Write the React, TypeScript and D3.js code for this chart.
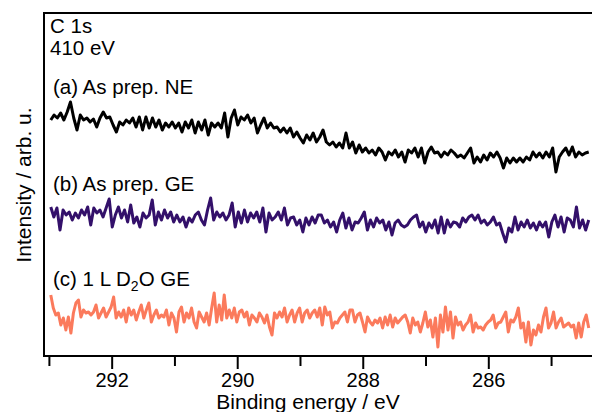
import * as d3 from 'd3'
import { useEffect, useRef } from 'react'

// C 1s spectra, intensity in arbitrary units (offset traces)
const traceA = [
  235, 240, 237, 242, 235, 243, 253, 237, 225, 240, 235, 237, 233, 236, 228, 237, 243, 237, 238, 230,
  223, 233, 230, 235, 232, 237, 228, 238, 225, 238, 227, 237, 228, 235, 225, 232, 228, 233, 227, 232,
  223, 233, 227, 235, 222, 233, 225, 235, 220, 232, 228, 232, 227, 242, 218, 237, 245, 230, 238, 235,
  240, 232, 237, 222, 230, 237, 227, 232, 227, 228, 223, 227, 222, 227, 218, 223, 217, 212, 220, 215,
  222, 213, 218,
  225, 213, 210, 213, 208, 212, 207, 222, 207, 213, 202, 210, 203, 207, 202, 205, 200, 207, 203, 195,
  203, 200, 205, 198, 203, 193, 205, 202, 207, 198, 207, 192, 203, 208, 202, 203, 198, 203, 200, 205,
  202, 198, 200, 197, 202, 207, 192, 198, 193, 200, 195, 202, 198, 203, 197, 187, 197, 192, 197, 193,
  197, 193, 198, 195, 203, 198, 202, 197, 203, 198, 207, 183, 198, 203, 207, 200, 208, 198, 203, 200,
  202, 203,
]

const traceB = [
  148, 138, 147, 125, 145, 140, 143, 135, 142, 137, 145, 140, 148, 130, 147, 142, 145, 138, 147, 156,
  128, 140, 148, 137, 145, 133, 150, 132, 138, 128, 142, 137, 140, 155, 130, 143, 135, 145, 137, 143,
  133, 140, 133, 138, 128, 137, 133, 140, 143, 135, 130, 145, 157, 135, 143, 138, 142, 135, 140, 152,
  128, 143, 132, 145, 133, 142, 137, 143, 133, 147, 123, 142, 135, 138, 143, 135, 147, 130, 137, 138,
  130, 135, 123, 137, 130, 138, 132, 140,
  140, 132, 135, 128, 133, 123, 135, 142, 127, 137, 125, 133, 132, 137, 143, 125, 135, 128, 137, 132,
  135, 125, 133, 120, 132, 135, 130, 128, 130, 135, 138, 140, 128, 133, 123, 132, 127, 135, 122, 138,
  122, 135, 128, 133, 132, 128, 137, 133, 138, 140, 135, 140, 132, 135, 130, 133, 138, 130, 132, 122,
  113, 127, 123, 138, 125, 133, 128, 135, 127, 132, 125, 133, 128, 133, 118, 133, 140, 128, 138, 123,
  137, 135, 128, 148, 127, 135, 125, 135,
]

const traceC = [
  60, 47, 40, 42, 30, 37, 25, 38, 22, 42, 52, 55, 38, 45, 42, 43, 40, 43, 50, 37,
  42, 47, 38, 43, 48, 58, 37, 43, 38, 45, 33, 47, 40, 45, 35, 43, 50, 37, 45, 52,
  33, 40, 45, 37, 40, 38, 45, 30, 42, 37, 23, 43, 48, 33, 42, 37, 47, 33, 27, 43,
  38, 33, 42, 30, 47, 62, 33, 50, 35, 60, 37, 45, 37, 47, 33, 43, 45, 38, 43, 30,
  40, 37, 33, 42, 38, 32, 40, 28, 20, 42, 37, 43, 38, 47, 33, 40, 45, 33, 42, 47,
  33, 42, 45, 37, 42,
  45, 38, 47, 30, 48, 40, 43, 27, 33, 32, 37, 40, 43, 33, 45, 45, 33, 40, 42, 33,
  23, 38, 33, 30, 35, 32, 37, 27, 38, 30, 40, 28, 37, 32, 35, 38, 40, 33, 22, 37,
  30, 33, 23, 32, 43, 28, 35, 18, 37, 8, 40, 23, 48, 25, 43, 17, 38, 30, 33, 25,
  30, 33, 40, 23, 32, 27, 28, 25, 30, 33, 35, 40, 27, 32, 33, 38, 43, 23, 35, 33,
  38, 47, 27, 32, 13, 33, 10, 25, 20, 30, 23, 38, 47, 27, 32, 43, 27, 33, 37, 28,
  30, 32, 28, 30, 17, 32, 18, 33, 40, 27,
]

// energy grid of the scans (eV)
const scanStart = 292.97
const scanEnd = 284.4

const majorTicks = [292, 290, 288, 286]
const minorTicks = [293, 291, 289, 287, 285]

const series = [
  { values: traceA, color: '#000000' },
  { values: traceB, color: '#33106a' },
  { values: traceC, color: '#fb7a5c' },
]

const FONT = '"Liberation Sans", Arial, sans-serif'

const App = () => {
  const ref = useRef(null)

  useEffect(() => {
    const width = 592
    const height = 412
    const left = 44
    const top = 13
    const bottom = 356

    const svg = d3.select(ref.current)
    svg.selectAll('*').remove()
    svg.attr('width', width).attr('height', height)

    const x = d3.scaleLinear().domain([293.078, 284.348]).range([left, width])
    const y = d3.scaleLinear().domain([0, 343]).range([355, 12])

    // traces
    const line = d3
      .line()
      .x((d) => x(d[0]))
      .y((d) => y(d[1]))
    series.forEach((s) => {
      const n = s.values.length
      const pts = s.values.map((v, i) => [scanStart + ((scanEnd - scanStart) * i) / (n - 1), v])
      svg
        .append('path')
        .datum(pts)
        .attr('d', line)
        .attr('fill', 'none')
        .attr('stroke', s.color)
        .attr('stroke-width', 3)
        .attr('stroke-linejoin', 'round')
    })

    // X axis, major
    const gx = svg
      .append('g')
      .attr('transform', `translate(0, ${bottom})`)
      .call(d3.axisBottom(x).tickValues(majorTicks).tickSize(13).tickSizeOuter(0).tickPadding(4))
    gx.select('.domain').remove()
    gx.selectAll('line').attr('stroke', '#000').attr('stroke-width', 2)
    gx.selectAll('text').attr('fill', '#000').style('font-family', FONT).style('font-size', '20px')

    // X axis, minor
    const gm = svg
      .append('g')
      .attr('transform', `translate(0, ${bottom})`)
      .call(d3.axisBottom(x).tickValues(minorTicks).tickSize(10).tickFormat(() => ''))
    gm.select('.domain').remove()
    gm.selectAll('line').attr('stroke', '#000').attr('stroke-width', 2)

    // frame
    svg
      .append('path')
      .attr('d', `M${width},${top}H${left}V${bottom}H${width}`)
      .attr('fill', 'none')
      .attr('stroke', '#000')
      .attr('stroke-width', 2)

    const label = (tx, ty, txt) =>
      svg
        .append('text')
        .attr('x', tx)
        .attr('y', ty)
        .style('font-family', FONT)
        .style('font-size', '20.5px')
        .attr('fill', '#000')
        .text(txt)

    label(50, 33, 'C 1s')
    label(50, 55, '410 eV')
    label(53, 94, '(a) As prep. NE')
    label(53, 191, '(b) As prep. GE')

    const tc = svg
      .append('text')
      .attr('x', 53)
      .attr('y', 286)
      .style('font-family', FONT)
      .style('font-size', '20.5px')
      .attr('fill', '#000')
    tc.append('tspan').text('(c) 1 L D')
    tc.append('tspan').attr('dy', 5).style('font-size', '14px').text('2')
    tc.append('tspan').attr('dy', -5).text('O GE')

    // axis titles
    svg
      .append('text')
      .attr('x', 308)
      .attr('y', 409)
      .attr('text-anchor', 'middle')
      .style('font-family', FONT)
      .style('font-size', '21px')
      .text('Binding energy / eV')

    svg
      .append('text')
      .attr('transform', 'rotate(-90)')
      .attr('x', -185)
      .attr('y', 31)
      .attr('text-anchor', 'middle')
      .style('font-family', FONT)
      .style('font-size', '21px')
      .text('Intensity / arb. u.')
  }, [])

  return (
    <div style={{ position: 'absolute', left: 0, top: 0 }}>
      <svg ref={ref}></svg>
    </div>
  )
}

export default App
